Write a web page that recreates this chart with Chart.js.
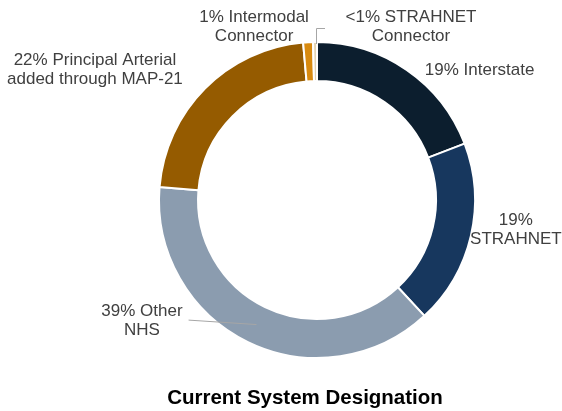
<!DOCTYPE html>
<html>
<head>
<meta charset="utf-8">
<script src="https://cdn.jsdelivr.net/npm/chart.js@4.4.1/dist/chart.umd.min.js"></script>
<style>
  html,body{margin:0;padding:0;background:#fff;}
  #wrap{width:562px;height:411px;}
</style>
</head>
<body>
<div id="wrap"><canvas id="chartDesignation" width="562" height="411"></canvas></div>
<script>
// ---- data ----
const CATEGORIES = ['Interstate', 'STRAHNET', 'Other NHS', 'Principal Arterial added through MAP-21', 'Intermodal Connector', 'STRAHNET Connector'];
const SHARES = [19.2, 18.9, 38.2, 22.3, 1.0, 0.4];
const LABEL_LINES = [
  ['19% Interstate'],
  ['19%', 'STRAHNET'],
  ['39% Other', 'NHS'],
  ['22% Principal Arterial', 'added through MAP-21'],
  ['1% Intermodal', 'Connector'],
  ['<1% STRAHNET', 'Connector']
];
const SLICE_COLORS = ['#0C1E2E', '#17375E', '#8B9CAF', '#955B00', '#D88A0F', '#E3D3B2'];
const TITLE = 'Current System Designation';

// label placement relative to each slice's outer midpoint
const LABEL_LAYOUT = [
  { dx: 73, dy: 0 },
  { dx: 45, dy: -6 },
  { dx: -106, dy: -21, leader: 'straight' },
  { dx: -110, dy: -19 },
  { dx: -54, dy: -15 },
  { dx: 96, dy: -15, leader: 'elbow' }
];
const LINE_H = 19;
const TEXT_COLOR = '#404040';
const LEADER_COLOR = '#A6A6A6';
const FONT = '"Liberation Sans", Arial, sans-serif';

const sliceLabels = {
  id: 'sliceLabels',
  afterDatasetsDraw(chart){
    const ctx = chart.ctx;
    const arcs = chart.getDatasetMeta(0).data;
    ctx.save();
    ctx.font = '17px ' + FONT;
    ctx.textAlign = 'center';
    ctx.textBaseline = 'middle';
    arcs.forEach((arc, i)=>{
      const p = arc.getProps(['x','y','startAngle','endAngle','outerRadius','innerRadius'], true);
      const mid = (p.startAngle + p.endAngle) / 2;
      const ox = p.x + Math.cos(mid) * p.outerRadius;
      const oy = p.y + Math.sin(mid) * p.outerRadius;
      const lay = LABEL_LAYOUT[i];
      const cx = ox + lay.dx, cy = oy + lay.dy;
      const lines = LABEL_LINES[i];

      ctx.fillStyle = TEXT_COLOR;
      lines.forEach((t, j)=> ctx.fillText(t, cx, cy + (j - (lines.length - 1) / 2) * LINE_H));

      ctx.strokeStyle = LEADER_COLOR;
      ctx.lineWidth = 1;
      if(lay.leader === 'straight'){
        const w = Math.max(...lines.map(t => ctx.measureText(t).width));
        const rm = (p.outerRadius + p.innerRadius) / 2;
        ctx.beginPath();
        ctx.moveTo(cx + w / 2 + 6, cy - 1);
        ctx.lineTo(p.x + Math.cos(mid) * rm, p.y + Math.sin(mid) * rm);
        ctx.stroke();
      } else if(lay.leader === 'elbow'){
        ctx.beginPath();
        ctx.moveTo(ox + 1.5, oy + 2);
        ctx.lineTo(ox + 1.5, cy + 1.5);
        ctx.lineTo(ox + 10, cy + 1.5);
        ctx.stroke();
      }
    });
    ctx.restore();
  },
  afterDraw(chart){
    const ctx = chart.ctx;
    ctx.save();
    ctx.font = 'bold 20.5px ' + FONT;
    ctx.fillStyle = '#000';
    ctx.textAlign = 'center';
    ctx.textBaseline = 'middle';
    ctx.fillText(TITLE, 305, 398);
    ctx.restore();
  }
};

new Chart(document.getElementById('chartDesignation'), {
  type: 'doughnut',
  data: {
    labels: CATEGORIES,
    datasets: [{
      data: SHARES,
      backgroundColor: SLICE_COLORS,
      borderColor: '#fff',
      borderWidth: 2
    }]
  },
  options: {
    responsive: false,
    animation: false,
    devicePixelRatio: 1,
    radius: 158,
    cutout: '75.3%',
    layout: { padding: { left: 72, right: 0, top: 0, bottom: 11 } },
    plugins: { legend: { display: false }, tooltip: { enabled: false }, title: { display: false } }
  },
  plugins: [sliceLabels]
});
</script>
</body>
</html>
